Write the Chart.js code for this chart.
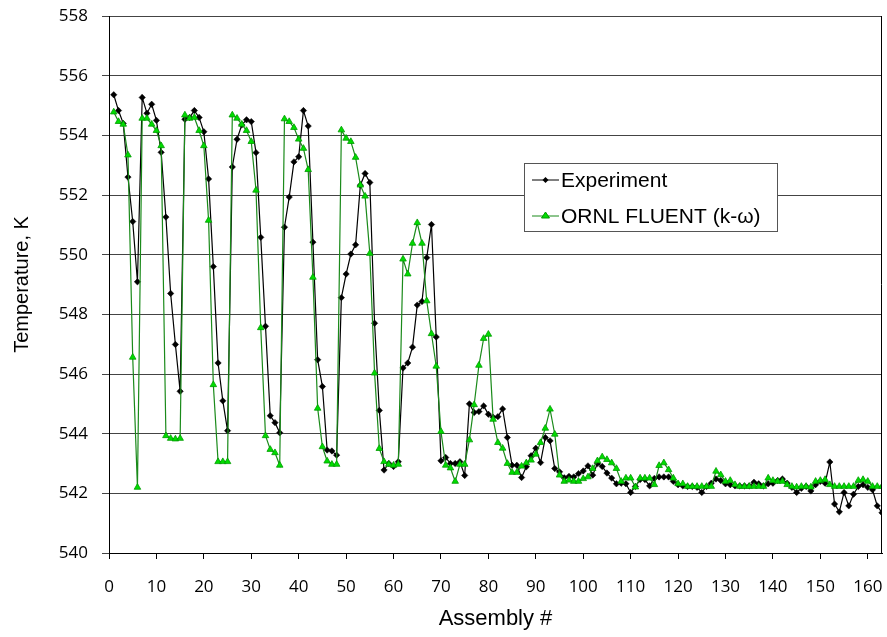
<!DOCTYPE html>
<html>
<head>
<meta charset="utf-8">
<script src="https://cdn.jsdelivr.net/npm/chart.js@4.4.1/dist/chart.umd.min.js"></script>
<style>
  body { margin: 0; background: #fff; }
  #wrap { width: 887px; height: 637px; position: relative; }
</style>
</head>
<body>
<div id="wrap"><canvas id="line_chart"></canvas></div>
<script>
// assembly number along the core traverse
const assembly = [
  1,2,3,4,5,6,7,8,9,10,11,12,13,14,15,16,17,18,19,20,
  21,22,23,24,25,26,27,28,29,30,31,32,33,34,35,36,37,38,39,40,
  41,42,43,44,45,46,47,48,49,50,51,52,53,54,55,56,57,58,59,60,
  61,62,63,64,65,66,67,68,69,70,71,72,73,74,75,76,77,78,79,80,
  81,82,83,84,85,86,87,88,89,90,91,92,93,94,95,96,97,98,99,100,
  101,102,103,104,105,106,107,108,109,110,111,112,113,114,115,116,117,118,119,120,
  121,122,123,124,125,126,127,128,129,130,131,132,133,134,135,136,137,138,139,140,
  141,142,143,144,145,146,147,148,149,150,151,152,153,154,155,156,157,158,159,160,
  161,162,163
];

const experiment = [
  555.36,554.83,554.40,552.60,551.11,549.09,555.27,554.74,555.04,554.50,
  553.43,551.26,548.70,546.99,545.42,554.54,554.60,554.83,554.60,554.12,
  552.54,549.60,546.37,545.10,544.10,552.94,553.87,554.35,554.52,554.46,
  553.42,550.58,547.60,544.60,544.37,544.03,550.92,551.93,553.11,553.28,
  554.83,554.31,550.42,546.48,545.58,543.45,543.42,543.28,548.56,549.35,
  550.02,550.33,552.33,552.72,552.42,547.70,544.78,542.78,543.00,542.90,
  543.06,546.20,546.37,546.90,548.31,548.43,549.90,551.01,547.24,543.09,
  543.20,543.00,543.00,543.06,542.60,545.00,544.71,544.74,544.93,544.65,
  544.55,544.57,544.83,543.87,542.94,542.94,542.53,542.89,543.26,543.51,
  543.03,543.87,543.76,542.83,542.72,542.52,542.57,542.55,542.66,542.75,
  542.92,542.61,543.00,542.90,542.68,542.51,542.32,542.34,542.32,542.03,
  542.23,542.46,542.46,542.25,542.50,542.55,542.55,542.55,542.40,542.29,
  542.25,542.23,542.23,542.20,542.03,542.23,542.34,542.48,542.43,542.32,
  542.29,542.25,542.25,542.25,542.25,542.37,542.32,542.25,542.32,542.34,
  542.43,542.48,542.34,542.20,542.03,542.17,542.23,542.08,542.29,542.40,
  542.34,543.05,541.64,541.38,542.03,541.58,541.97,542.23,542.29,542.20,
  542.12,541.58,541.35
];

const fluent = [
  554.78,554.46,554.37,553.34,546.56,542.20,554.57,554.57,554.37,554.16,
  553.65,543.93,543.84,543.82,543.84,554.68,554.57,554.60,554.16,553.65,
  551.15,545.64,543.06,543.06,543.06,554.68,554.57,554.37,554.16,553.79,
  552.16,547.55,543.93,543.47,543.36,542.94,554.55,554.46,554.26,553.87,
  553.56,552.85,549.24,544.85,543.56,543.08,542.97,542.97,554.18,553.90,
  553.79,553.26,552.33,551.96,550.04,546.03,543.50,543.06,542.97,542.94,
  542.97,549.85,549.35,550.38,551.07,550.38,548.45,547.35,546.26,544.07,
  542.94,542.85,542.40,542.97,542.97,543.79,544.97,546.29,547.19,547.33,
  544.48,543.70,543.51,543.00,542.70,542.70,542.91,543.02,543.11,543.31,
  543.70,544.18,544.82,543.98,542.61,542.40,542.44,542.40,542.40,542.49,
  542.55,542.83,543.09,543.22,543.13,543.02,542.83,542.40,542.51,542.51,
  542.21,542.51,542.51,542.51,542.29,542.93,543.02,542.79,542.51,542.32,
  542.32,542.23,542.23,542.23,542.23,542.23,542.23,542.74,542.62,542.40,
  542.43,542.29,542.23,542.23,542.23,542.23,542.23,542.23,542.51,542.43,
  542.40,542.40,542.29,542.23,542.21,542.23,542.23,542.21,542.40,542.43,
  542.46,542.29,542.23,542.23,542.23,542.23,542.23,542.43,542.46,542.40,
  542.23,542.23,542.23
];

const xTicks = [0,10,20,30,40,50,60,70,80,90,100,110,120,130,140,150,160];
const yTicks = [540,542,544,546,548,550,552,554,556,558];

const seriesNames = ['Experiment', 'ORNL FLUENT (k-\u03c9)'];

function toPoints(ys) {
    return assembly.map(function (a, i) { return { x: a, y: ys[i] }; });
}

// legend box drawn inside the plot, like the original spreadsheet chart
const boxLegend = {
    id: 'boxLegend',
    afterDraw: function (chart) {
        const ctx = chart.ctx;
        const a = chart.chartArea;
        ctx.save();
        // right frame line
        ctx.strokeStyle = '#000';
        ctx.lineWidth = 1;
        ctx.beginPath();
        ctx.moveTo(Math.round(a.right) - 0.5, a.top);
        ctx.lineTo(Math.round(a.right) - 0.5, a.bottom);
        ctx.stroke();

        const bx = 524.5, by = 163.5, bw = 253, bh = 68;
        ctx.fillStyle = '#fff';
        ctx.fillRect(bx, by, bw, bh);
        ctx.strokeStyle = '#555';
        ctx.strokeRect(bx, by, bw, bh);

        ctx.font = '21px "Liberation Sans", Arial, sans-serif';
        ctx.textBaseline = 'middle';
        ctx.fillStyle = '#000';

        // entry 1
        let y = 180;
        ctx.strokeStyle = '#000';
        ctx.beginPath(); ctx.moveTo(532, y); ctx.lineTo(559, y); ctx.stroke();
        ctx.beginPath();
        ctx.moveTo(545.5, y - 3); ctx.lineTo(548.5, y); ctx.lineTo(545.5, y + 3); ctx.lineTo(542.5, y);
        ctx.closePath(); ctx.fill();
        ctx.fillText(seriesNames[0], 561, y + 1);

        // entry 2
        y = 216;
        ctx.strokeStyle = '#1a8a1a';
        ctx.beginPath(); ctx.moveTo(532, y); ctx.lineTo(559, y); ctx.stroke();
        ctx.fillStyle = '#00dd00';
        ctx.strokeStyle = '#009a00';
        ctx.beginPath();
        ctx.moveTo(545.5, y - 4); ctx.lineTo(549.5, y + 2); ctx.lineTo(541.5, y + 2);
        ctx.closePath(); ctx.fill(); ctx.stroke();
        ctx.fillStyle = '#000';
        ctx.fillText(seriesNames[1], 561, y + 1);
        ctx.restore();
    }
};

const config = {
    type: 'line',
    data: {
        datasets: [
            {
                label: seriesNames[0],
                data: toPoints(experiment),
                borderColor: '#000',
                borderWidth: 1.2,
                backgroundColor: '#000',
                pointStyle: 'rectRot',
                pointRadius: 3.2,
                pointBorderWidth: 0.5,
                pointBackgroundColor: '#000',
                pointBorderColor: '#000',
                tension: 0,
                order: 1
            },
            {
                label: seriesNames[1],
                data: toPoints(fluent),
                borderColor: '#1a8a1a',
                borderWidth: 1.2,
                backgroundColor: '#00dd00',
                pointStyle: 'triangle',
                pointRadius: 3.8,
                pointBorderWidth: 0.8,
                pointBackgroundColor: '#00dd00',
                pointBorderColor: '#009a00',
                tension: 0,
                order: 0
            }
        ]
    },
    options: {
        responsive: true,
        maintainAspectRatio: false,
        animation: false,
        devicePixelRatio: 1,
        layout: { padding: { top: 16, right: 5, left: 0, bottom: 0 } },
        plugins: {
            legend: { display: false },
            tooltip: { enabled: false }
        },
        scales: {
            x: {
                type: 'linear',
                min: 0,
                max: 163,
                afterBuildTicks: function (scale) {
                    scale.ticks = xTicks.map(function (v) { return { value: v }; });
                },
                afterFit: function (scale) {
                    scale.height = 84;
                    scale.paddingLeft = 0;
                    scale.paddingRight = 0;
                },
                grid: {
                    drawOnChartArea: false,
                    drawTicks: true,
                    tickLength: 6,
                    color: '#000'
                },
                border: { color: '#000', width: 1 },
                ticks: {
                    color: '#000',
                    padding: 18,
                    maxRotation: 0,
                    font: { family: '"Open Sans", sans-serif', size: 17 }
                },
                title: {
                    display: true,
                    text: 'Assembly #',
                    color: '#000',
                    padding: { top: 0, bottom: 5 },
                    font: { family: '"Liberation Sans", Arial, sans-serif', size: 22 }
                }
            },
            y: {
                min: 540,
                max: 558,
                afterBuildTicks: function (scale) {
                    scale.ticks = yTicks.map(function (v) { return { value: v }; });
                },
                afterFit: function (scale) {
                    scale.width = 109;
                    scale.paddingTop = 0;
                    scale.paddingBottom = 0;
                },
                grid: {
                    color: '#444',
                    lineWidth: 1,
                    tickLength: 7
                },
                border: { color: '#000', width: 1 },
                ticks: {
                    color: '#000',
                    padding: 14,
                    font: { family: '"Open Sans", sans-serif', size: 17 }
                },
                title: {
                    display: true,
                    text: 'Temperature, K',
                    color: '#000',
                    padding: { top: 10, bottom: 0 },
                    font: { family: '"Liberation Sans", Arial, sans-serif', size: 20 }
                }
            }
        }
    },
    plugins: [boxLegend]
};

new Chart(document.getElementById('line_chart').getContext('2d'), config);
</script>
</body>
</html>
